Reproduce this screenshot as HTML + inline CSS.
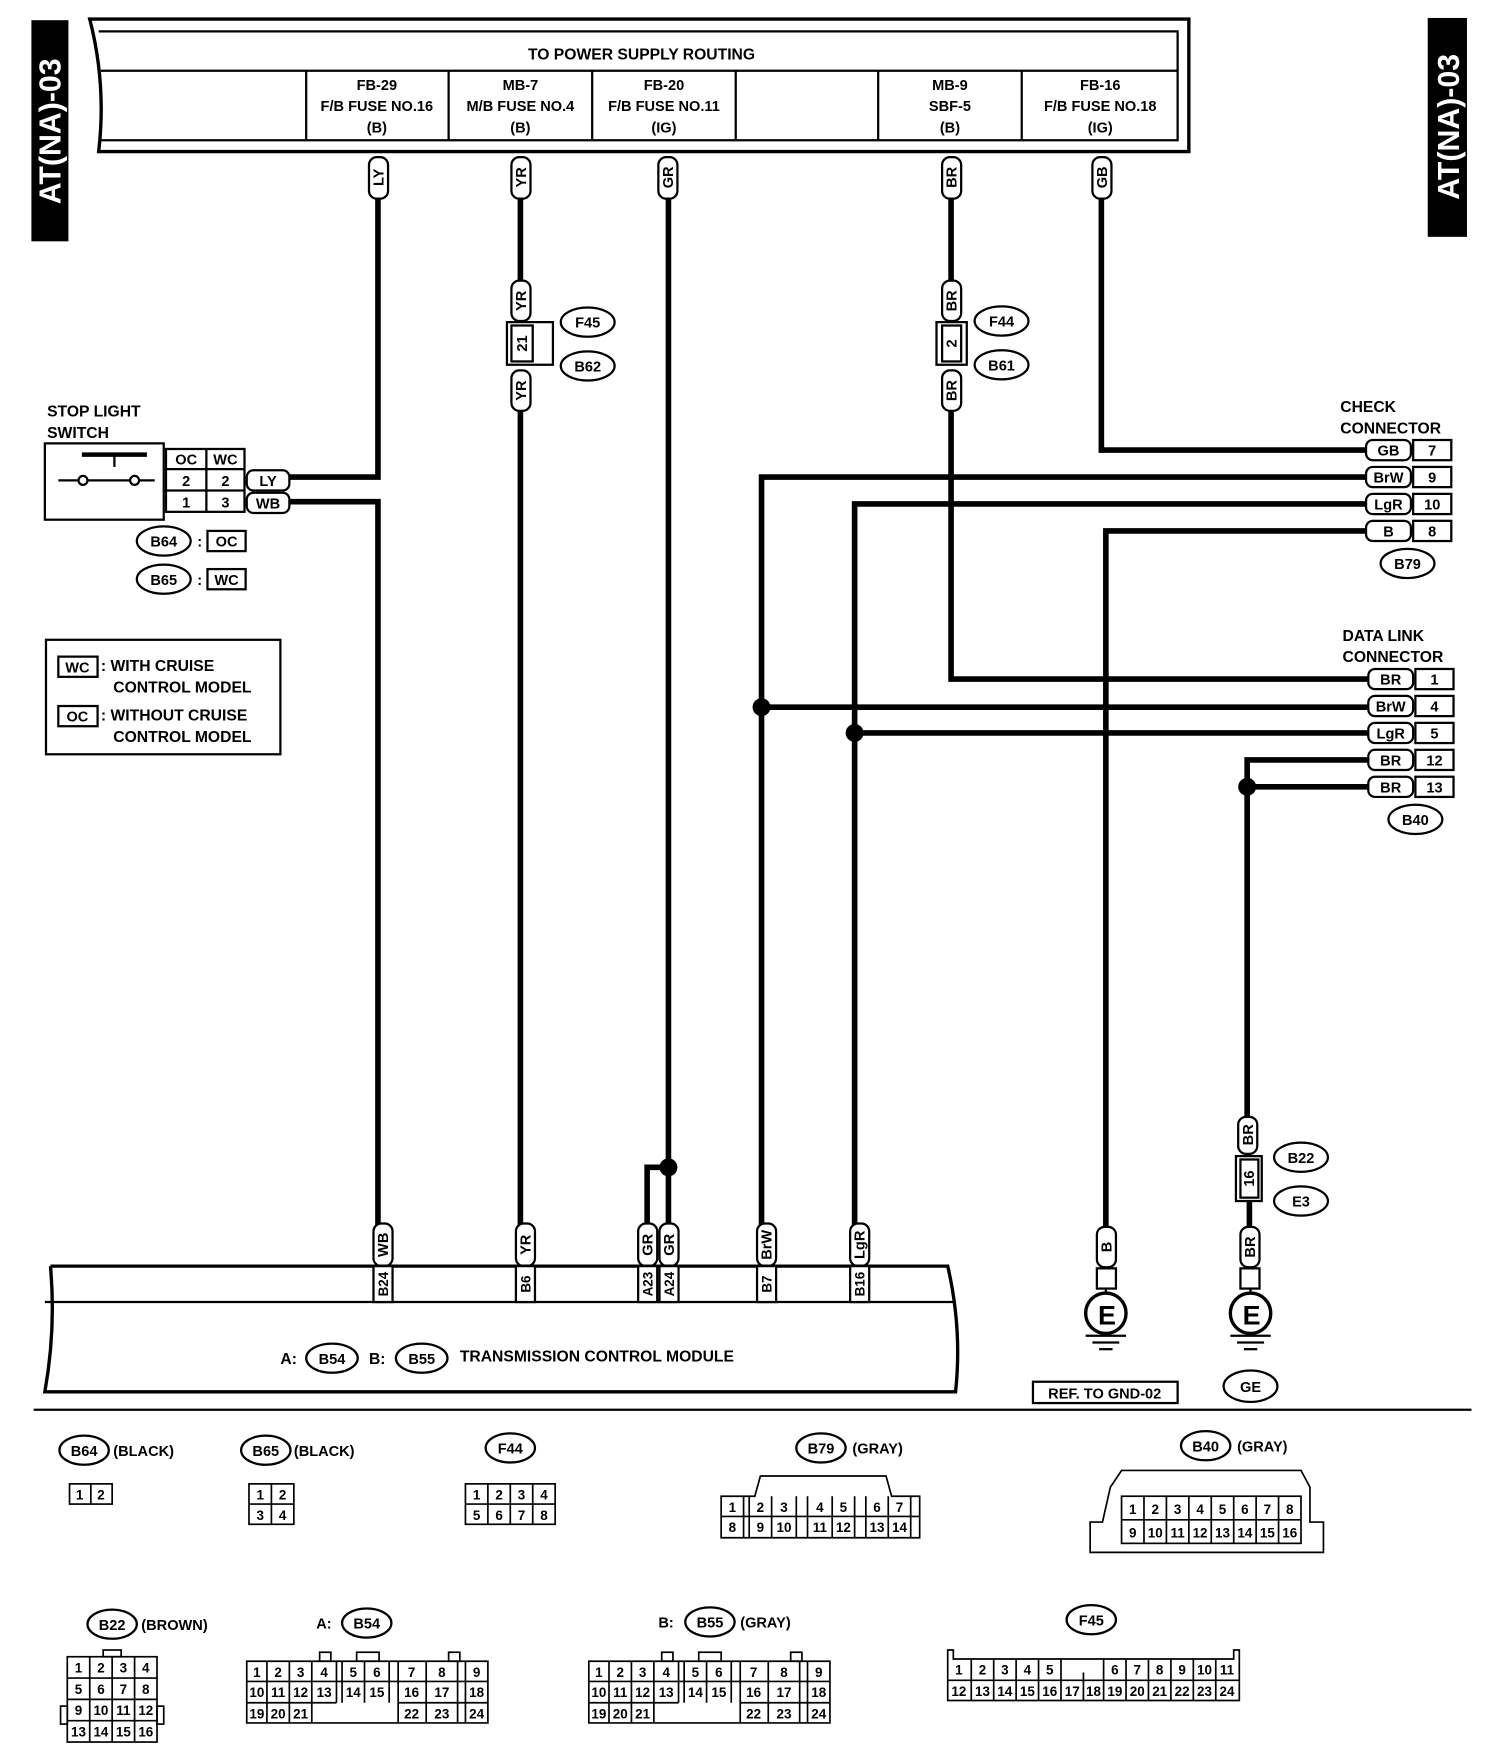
<!DOCTYPE html>
<html><head><meta charset="utf-8"><style>
html,body{margin:0;padding:0;background:#fff}
svg{display:block}
text{font-family:"Liberation Sans",sans-serif;font-weight:bold;fill:#000;font-stretch:condensed}
</style></head><body>
<svg width="1504" height="1760" viewBox="0 0 1341 1568" preserveAspectRatio="none" xmlns="http://www.w3.org/2000/svg">
<g font-size="14">
<rect x="28" y="18" width="33" height="197" fill="#000"/>
<text x="0" y="0" transform="translate(54,117) rotate(-90)" text-anchor="middle" font-size="27" style="fill:#fff" font-weight="normal">AT(NA)-03</text>
<rect x="1273" y="16" width="35" height="195" fill="#000"/>
<text x="0" y="0" transform="translate(1301,113) rotate(-90)" text-anchor="middle" font-size="27" style="fill:#fff" font-weight="normal">AT(NA)-03</text>

<g fill="none" stroke="#000">
<path d="M80,17 L1060,17 L1060,135 L88,135 Q95,75 80,17 Z" stroke-width="3"/>
<path d="M88,28 L1050,28 L1050,125 L90,125" stroke-width="2"/>
<line x1="90" y1="63" x2="1050" y2="63" stroke-width="2"/>
<g stroke-width="2">
<line x1="273" y1="63" x2="273" y2="125"/><line x1="400" y1="63" x2="400" y2="125"/>
<line x1="528" y1="63" x2="528" y2="125"/><line x1="656" y1="63" x2="656" y2="125"/>
<line x1="783" y1="63" x2="783" y2="125"/><line x1="911" y1="63" x2="911" y2="125"/>
</g></g>
<text x="572" y="53" text-anchor="middle">TO POWER SUPPLY ROUTING</text>
<g text-anchor="middle" font-size="13">
<text x="336" y="80">FB-29</text><text x="336" y="99">F/B FUSE NO.16</text><text x="336" y="118">(B)</text>
<text x="464" y="80">MB-7</text><text x="464" y="99">M/B FUSE NO.4</text><text x="464" y="118">(B)</text>
<text x="592" y="80">FB-20</text><text x="592" y="99">F/B FUSE NO.11</text><text x="592" y="118">(IG)</text>
<text x="847" y="80">MB-9</text><text x="847" y="99">SBF-5</text><text x="847" y="118">(B)</text>
<text x="981" y="80">FB-16</text><text x="981" y="99">F/B FUSE NO.18</text><text x="981" y="118">(IG)</text>
</g>

<g fill="none" stroke="#000" stroke-width="5">
<polyline points="337,175 337,425 258,425"/>
<polyline points="258,447 337,447 337,1092"/>
<line x1="464" y1="175" x2="464" y2="250"/>
<line x1="464" y1="365" x2="464" y2="1092"/>
<polyline points="596,175 596,1092"/>
<polyline points="596,1040 577,1040 577,1092"/>
<line x1="848" y1="175" x2="848" y2="250"/>
<polyline points="848,365 848,605 1220,605"/>
<polyline points="982,175 982,401 1218,401"/>
<polyline points="1218,425 679,425 679,1092"/>
<line x1="679" y1="630" x2="1220" y2="630"/>
<polyline points="1218,449 762,449 762,1092"/>
<line x1="762" y1="653" x2="1220" y2="653"/>
<polyline points="1218,473 986,473 986,1095"/>
<polyline points="1220,677 1112,677 1112,997"/>
<line x1="1112" y1="701" x2="1220" y2="701"/>
<line x1="1114" y1="1070" x2="1114" y2="1095"/>
</g>
<g fill="#000"><circle cx="679" cy="630" r="8"/><circle cx="762" cy="653" r="8"/><circle cx="596" cy="1040" r="8"/><circle cx="1112" cy="701" r="8"/></g>

<g fill="#fff" stroke="#000" stroke-width="2">
<rect x="329" y="140" width="17" height="37" rx="7"/>
<rect x="456" y="140" width="17" height="37" rx="7"/>
<rect x="587" y="140" width="17" height="37" rx="7"/>
<rect x="840" y="140" width="17" height="37" rx="7"/>
<rect x="974" y="140" width="17" height="37" rx="7"/>
<rect x="456" y="250" width="17" height="36" rx="7"/>
<rect x="456" y="330" width="17" height="36" rx="7"/>
<rect x="840" y="250" width="17" height="36" rx="7"/>
<rect x="840" y="330" width="17" height="36" rx="7"/>
<rect x="333" y="1090" width="17" height="38" rx="7"/>
<rect x="460" y="1090" width="17" height="38" rx="7"/>
<rect x="569" y="1090" width="17" height="38" rx="7"/>
<rect x="588" y="1090" width="17" height="38" rx="7"/>
<rect x="675" y="1090" width="17" height="38" rx="7"/>
<rect x="758" y="1090" width="17" height="38" rx="7"/>
<rect x="978" y="1093" width="17" height="36" rx="7"/>
<rect x="1106" y="1093" width="17" height="36" rx="7"/>
<rect x="1104" y="995" width="17" height="33" rx="7"/>
</g>
<g font-size="13" text-anchor="middle">
<text transform="translate(342,158) rotate(-90)">LY</text>
<text transform="translate(469,158) rotate(-90)">YR</text>
<text transform="translate(600,158) rotate(-90)">GR</text>
<text transform="translate(853,158) rotate(-90)">BR</text>
<text transform="translate(987,158) rotate(-90)">GB</text>
<text transform="translate(469,268) rotate(-90)">YR</text>
<text transform="translate(469,348) rotate(-90)">YR</text>
<text transform="translate(853,268) rotate(-90)">BR</text>
<text transform="translate(853,348) rotate(-90)">BR</text>
<text transform="translate(346,1109) rotate(-90)">WB</text>
<text transform="translate(473,1109) rotate(-90)">YR</text>
<text transform="translate(582,1109) rotate(-90)">GR</text>
<text transform="translate(601,1109) rotate(-90)">GR</text>
<text transform="translate(688,1109) rotate(-90)">BrW</text>
<text transform="translate(771,1109) rotate(-90)">LgR</text>
<text transform="translate(991,1111) rotate(-90)">B</text>
<text transform="translate(1119,1111) rotate(-90)">BR</text>
<text transform="translate(1117,1011) rotate(-90)">BR</text>
</g>

<g fill="#fff" stroke="#000" stroke-width="2">
<path d="M452,287 L493,287 L493,325 L452,325 Z"/>
<rect x="456" y="290" width="19" height="32"/>
<path d="M835,287 L862,287 L862,325 L835,325 Z"/>
<rect x="840" y="290" width="17" height="32"/>
<rect x="1102" y="1030" width="23" height="40"/>
<rect x="1106" y="1033" width="16" height="34"/>
<ellipse cx="524" cy="287" rx="24" ry="13"/><ellipse cx="524" cy="326" rx="24" ry="13"/>
<ellipse cx="893" cy="286" rx="24" ry="13"/><ellipse cx="893" cy="325" rx="24" ry="13"/>
<ellipse cx="1160" cy="1031" rx="24" ry="13"/><ellipse cx="1160" cy="1070" rx="24" ry="13"/>
</g>
<g font-size="13" text-anchor="middle">
<text transform="translate(470,306) rotate(-90)">21</text>
<text transform="translate(853,306) rotate(-90)">2</text>
<text transform="translate(1118,1050) rotate(-90)">16</text>
<text x="524" y="292">F45</text><text x="524" y="331">B62</text>
<text x="893" y="291">F44</text><text x="893" y="330">B61</text>
<text x="1160" y="1036">B22</text><text x="1160" y="1075">E3</text>
</g>

<text x="1195" y="367">CHECK</text><text x="1195" y="386">CONNECTOR</text>
<g fill="#fff" stroke="#000" stroke-width="2">
<rect x="1218" y="392" width="40" height="18" rx="6"/><rect x="1260" y="392" width="34" height="18"/>
<rect x="1218" y="416" width="40" height="18" rx="6"/><rect x="1260" y="416" width="34" height="18"/>
<rect x="1218" y="440" width="40" height="18" rx="6"/><rect x="1260" y="440" width="34" height="18"/>
<rect x="1218" y="464" width="40" height="18" rx="6"/><rect x="1260" y="464" width="34" height="18"/>
<ellipse cx="1255" cy="502" rx="24" ry="13"/>
</g>
<g font-size="13" text-anchor="middle">
<text x="1238" y="406">GB</text><text x="1277" y="406">7</text>
<text x="1238" y="430">BrW</text><text x="1277" y="430">9</text>
<text x="1238" y="454">LgR</text><text x="1277" y="454">10</text>
<text x="1238" y="478">B</text><text x="1277" y="478">8</text>
<text x="1255" y="507">B79</text>
</g>

<text x="1197" y="571">DATA LINK</text><text x="1197" y="590">CONNECTOR</text>
<g fill="#fff" stroke="#000" stroke-width="2">
<rect x="1220" y="596" width="40" height="18" rx="6"/><rect x="1262" y="596" width="34" height="18"/>
<rect x="1220" y="620" width="40" height="18" rx="6"/><rect x="1262" y="620" width="34" height="18"/>
<rect x="1220" y="644" width="40" height="18" rx="6"/><rect x="1262" y="644" width="34" height="18"/>
<rect x="1220" y="668" width="40" height="18" rx="6"/><rect x="1262" y="668" width="34" height="18"/>
<rect x="1220" y="692" width="40" height="18" rx="6"/><rect x="1262" y="692" width="34" height="18"/>
<ellipse cx="1262" cy="730" rx="24" ry="13"/>
</g>
<g font-size="13" text-anchor="middle">
<text x="1240" y="610">BR</text><text x="1279" y="610">1</text>
<text x="1240" y="634">BrW</text><text x="1279" y="634">4</text>
<text x="1240" y="658">LgR</text><text x="1279" y="658">5</text>
<text x="1240" y="682">BR</text><text x="1279" y="682">12</text>
<text x="1240" y="706">BR</text><text x="1279" y="706">13</text>
<text x="1262" y="735">B40</text>
</g>

<text x="42" y="371">STOP LIGHT</text><text x="42" y="390">SWITCH</text>
<g fill="none" stroke="#000" stroke-width="2">
<rect x="40" y="395" width="106" height="68"/>
<line x1="73" y1="405" x2="131" y2="405" stroke-width="4"/>
<line x1="102" y1="405" x2="102" y2="416"/>
<line x1="52" y1="428" x2="138" y2="428"/>
<circle cx="74" cy="428" r="4" fill="#fff"/><circle cx="120" cy="428" r="4" fill="#fff"/>
<rect x="148" y="400" width="70" height="56"/>
<line x1="148" y1="418" x2="218" y2="418"/><line x1="148" y1="437" x2="218" y2="437"/>
<line x1="184" y1="400" x2="184" y2="456"/>
<rect x="220" y="419" width="38" height="18" rx="6" fill="#fff"/>
<rect x="220" y="439" width="38" height="18" rx="6" fill="#fff"/>
<ellipse cx="146" cy="482" rx="24" ry="13"/><rect x="185" y="473" width="34" height="18"/>
<ellipse cx="146" cy="516" rx="24" ry="13"/><rect x="185" y="507" width="34" height="18"/>
<rect x="41" y="570" width="209" height="102"/>
<rect x="52" y="585" width="35" height="18"/><rect x="52" y="629" width="35" height="18"/>
</g>
<g font-size="13" text-anchor="middle">
<text x="166" y="414">OC</text><text x="201" y="414">WC</text>
<text x="166" y="433">2</text><text x="201" y="433">2</text>
<text x="166" y="452">1</text><text x="201" y="452">3</text>
<text x="239" y="433">LY</text><text x="239" y="453">WB</text>
<text x="146" y="487">B64</text><text x="178" y="487">:</text><text x="202" y="487">OC</text>
<text x="146" y="521">B65</text><text x="178" y="521">:</text><text x="202" y="521">WC</text>
<text x="69" y="599">WC</text><text x="69" y="643">OC</text>
</g>
<text x="90" y="598">: WITH CRUISE</text><text x="101" y="617">CONTROL MODEL</text>
<text x="90" y="642">: WITHOUT CRUISE</text><text x="101" y="661">CONTROL MODEL</text>

<g fill="none" stroke="#000" stroke-width="3">
<path d="M45,1128 L845,1128 Q858,1184 852,1240 L40,1240 Q50,1184 45,1128"/>
<line x1="40" y1="1160" x2="852" y2="1160" stroke-width="2"/>
</g>
<g fill="#fff" stroke="#000" stroke-width="2">
<rect x="333" y="1128" width="17" height="32"/><rect x="460" y="1128" width="17" height="32"/>
<rect x="569" y="1128" width="17" height="32"/><rect x="588" y="1128" width="17" height="32"/>
<rect x="675" y="1128" width="17" height="32"/><rect x="758" y="1128" width="17" height="32"/>
<ellipse cx="296" cy="1210" rx="23" ry="13"/><ellipse cx="376" cy="1210" rx="23" ry="13"/>
</g>
<g font-size="12" text-anchor="middle">
<text transform="translate(346,1144) rotate(-90)">B24</text>
<text transform="translate(473,1144) rotate(-90)">B6</text>
<text transform="translate(582,1144) rotate(-90)">A23</text>
<text transform="translate(601,1144) rotate(-90)">A24</text>
<text transform="translate(688,1144) rotate(-90)">B7</text>
<text transform="translate(771,1144) rotate(-90)">B16</text>
<text x="296" y="1215" font-size="13">B54</text><text x="376" y="1215" font-size="13">B55</text>
</g>
<text x="250" y="1215">A:</text><text x="329" y="1215">B:</text>
<text x="410" y="1213">TRANSMISSION CONTROL MODULE</text>

<g fill="#fff" stroke="#000" stroke-width="2">
<rect x="978" y="1130" width="17" height="18"/><rect x="1106" y="1130" width="17" height="18"/>
<circle cx="986" cy="1170" r="18" stroke-width="3"/><circle cx="1115" cy="1170" r="18" stroke-width="3"/>
<line x1="986" y1="1148" x2="986" y2="1152"/><line x1="1115" y1="1148" x2="1115" y2="1152"/>
<line x1="968" y1="1190" x2="1004" y2="1190"/><line x1="974" y1="1196" x2="998" y2="1196"/><line x1="980" y1="1202" x2="992" y2="1202"/>
<line x1="1097" y1="1190" x2="1133" y2="1190"/><line x1="1103" y1="1196" x2="1127" y2="1196"/><line x1="1109" y1="1202" x2="1121" y2="1202"/>
<rect x="921" y="1231" width="129" height="19"/>
<ellipse cx="1115" cy="1235" rx="24" ry="14"/>
</g>
<g text-anchor="middle">
<text x="987" y="1180" font-size="24">E</text><text x="1116" y="1180" font-size="24">E</text>
<text x="985" y="1246" font-size="13">REF. TO GND-02</text><text x="1115" y="1240" font-size="13">GE</text>
</g>

<line x1="30" y1="1256" x2="1312" y2="1256" stroke="#000" stroke-width="2"/>

<g fill="#fff" stroke="#000" stroke-width="2">
<ellipse cx="75" cy="1292" rx="22" ry="13"/><ellipse cx="237" cy="1292" rx="22" ry="13"/>
<ellipse cx="455" cy="1290" rx="22" ry="13"/><ellipse cx="732" cy="1290" rx="22" ry="13"/>
<ellipse cx="1075" cy="1288" rx="22" ry="13"/><ellipse cx="100" cy="1447" rx="22" ry="13"/>
<ellipse cx="327" cy="1446" rx="22" ry="13"/><ellipse cx="633" cy="1445" rx="22" ry="13"/>
<ellipse cx="973" cy="1443" rx="22" ry="13"/>
</g>
<g font-size="13">
<text x="75" y="1297" text-anchor="middle">B64</text><text x="101" y="1297">(BLACK)</text>
<text x="237" y="1297" text-anchor="middle">B65</text><text x="262" y="1297">(BLACK)</text>
<text x="455" y="1295" text-anchor="middle">F44</text>
<text x="732" y="1295" text-anchor="middle">B79</text><text x="760" y="1295">(GRAY)</text>
<text x="1075" y="1293" text-anchor="middle">B40</text><text x="1103" y="1293">(GRAY)</text>
<text x="100" y="1452" text-anchor="middle">B22</text><text x="126" y="1452">(BROWN)</text>
<text x="282" y="1451">A:</text><text x="327" y="1451" text-anchor="middle">B54</text>
<text x="587" y="1450">B:</text><text x="633" y="1450" text-anchor="middle">B55</text><text x="660" y="1450">(GRAY)</text>
<text x="973" y="1448" text-anchor="middle">F45</text>
</g>

<g fill="none" stroke="#000" stroke-width="1.5">
<rect x="62" y="1322" width="38" height="18"/><line x1="81" y1="1322" x2="81" y2="1340"/>
<rect x="222" y="1322" width="40" height="36"/><line x1="242" y1="1322" x2="242" y2="1358"/><line x1="222" y1="1340" x2="262" y2="1340"/>
<rect x="415" y="1322" width="80" height="36"/><line x1="435" y1="1322" x2="435" y2="1358"/><line x1="455" y1="1322" x2="455" y2="1358"/><line x1="475" y1="1322" x2="475" y2="1358"/><line x1="415" y1="1340" x2="495" y2="1340"/>
<path d="M643,1333 L673,1333 L678,1315 L790,1315 L795,1333 L820,1333 L820,1370 L643,1370 Z"/>
<line x1="643" y1="1351" x2="820" y2="1351"/>
<line x1="663" y1="1333" x2="663" y2="1370"/><line x1="668" y1="1333" x2="668" y2="1370"/>
<line x1="688" y1="1333" x2="688" y2="1370"/><line x1="710" y1="1333" x2="710" y2="1370"/><line x1="720" y1="1333" x2="720" y2="1370"/>
<line x1="742" y1="1333" x2="742" y2="1370"/><line x1="762" y1="1333" x2="762" y2="1370"/><line x1="772" y1="1333" x2="772" y2="1370"/><line x1="792" y1="1333" x2="792" y2="1370"/><line x1="812" y1="1333" x2="812" y2="1370"/>
<path d="M990,1325 L1000,1310 L1160,1310 L1168,1325 L1168,1356 L1180,1356 L1180,1383 L972,1383 L972,1356 L983,1356 Z"/>
<rect x="1000" y="1333" width="160" height="42"/><line x1="1000" y1="1354" x2="1160" y2="1354"/>
<line x1="1020" y1="1333" x2="1020" y2="1375"/><line x1="1040" y1="1333" x2="1040" y2="1375"/><line x1="1060" y1="1333" x2="1060" y2="1375"/><line x1="1080" y1="1333" x2="1080" y2="1375"/><line x1="1100" y1="1333" x2="1100" y2="1375"/><line x1="1120" y1="1333" x2="1120" y2="1375"/><line x1="1140" y1="1333" x2="1140" y2="1375"/>
<rect x="60" y="1476" width="80" height="76"/><line x1="60" y1="1495" x2="140" y2="1495"/><line x1="60" y1="1514" x2="140" y2="1514"/><line x1="60" y1="1533" x2="140" y2="1533"/>
<line x1="80" y1="1476" x2="80" y2="1552"/><line x1="100" y1="1476" x2="100" y2="1552"/><line x1="120" y1="1476" x2="120" y2="1552"/>
<rect x="92" y="1470" width="16" height="6"/><rect x="54" y="1520" width="6" height="16"/><rect x="140" y="1520" width="6" height="16"/>
<path d="M220,1480 L435,1480 L435,1535 L220,1535 Z"/><line x1="220" y1="1498" x2="435" y2="1498"/><line x1="220" y1="1517" x2="300" y2="1517"/><line x1="355" y1="1517" x2="435" y2="1517"/>
<line x1="238" y1="1480" x2="238" y2="1535"/><line x1="258" y1="1480" x2="258" y2="1535"/><line x1="278" y1="1480" x2="278" y2="1535"/><line x1="300" y1="1480" x2="300" y2="1517"/>
<line x1="305" y1="1480" x2="305" y2="1517"/><line x1="325" y1="1480" x2="325" y2="1517"/><line x1="347" y1="1480" x2="347" y2="1517"/>
<line x1="355" y1="1480" x2="355" y2="1535"/><line x1="380" y1="1480" x2="380" y2="1535"/><line x1="408" y1="1480" x2="408" y2="1535"/><line x1="415" y1="1480" x2="415" y2="1535"/>
<rect x="285" y="1472" width="10" height="8"/><rect x="318" y="1472" width="20" height="8"/><rect x="400" y="1472" width="10" height="8"/>
<path d="M525,1480 L740,1480 L740,1535 L525,1535 Z"/><line x1="525" y1="1498" x2="740" y2="1498"/><line x1="525" y1="1517" x2="605" y2="1517"/><line x1="660" y1="1517" x2="740" y2="1517"/>
<line x1="543" y1="1480" x2="543" y2="1535"/><line x1="563" y1="1480" x2="563" y2="1535"/><line x1="583" y1="1480" x2="583" y2="1535"/><line x1="605" y1="1480" x2="605" y2="1517"/>
<line x1="610" y1="1480" x2="610" y2="1517"/><line x1="630" y1="1480" x2="630" y2="1517"/><line x1="652" y1="1480" x2="652" y2="1517"/>
<line x1="660" y1="1480" x2="660" y2="1535"/><line x1="685" y1="1480" x2="685" y2="1535"/><line x1="713" y1="1480" x2="713" y2="1535"/><line x1="720" y1="1480" x2="720" y2="1535"/>
<rect x="590" y="1472" width="10" height="8"/><rect x="623" y="1472" width="20" height="8"/><rect x="705" y="1472" width="10" height="8"/>
<path d="M845,1470 L850,1470 L850,1478 L1100,1478 L1100,1470 L1105,1470 L1105,1515 L845,1515 Z"/><line x1="845" y1="1497" x2="1105" y2="1497"/>
<line x1="866" y1="1478" x2="866" y2="1515"/><line x1="886" y1="1478" x2="886" y2="1515"/><line x1="906" y1="1478" x2="906" y2="1515"/><line x1="926" y1="1478" x2="926" y2="1515"/><line x1="946" y1="1478" x2="946" y2="1515"/>
<line x1="966" y1="1490" x2="966" y2="1515"/><line x1="984" y1="1478" x2="984" y2="1515"/><line x1="1004" y1="1478" x2="1004" y2="1515"/><line x1="1024" y1="1478" x2="1024" y2="1515"/><line x1="1044" y1="1478" x2="1044" y2="1515"/><line x1="1064" y1="1478" x2="1064" y2="1515"/><line x1="1084" y1="1478" x2="1084" y2="1515"/>
</g>
<g font-size="12" text-anchor="middle" font-weight="normal">
<text x="71" y="1336">1</text><text x="90" y="1336">2</text>
<text x="232" y="1336">1</text><text x="252" y="1336">2</text><text x="232" y="1354">3</text><text x="252" y="1354">4</text>
<text x="425" y="1336">1</text><text x="445" y="1336">2</text><text x="465" y="1336">3</text><text x="485" y="1336">4</text>
<text x="425" y="1354">5</text><text x="445" y="1354">6</text><text x="465" y="1354">7</text><text x="485" y="1354">8</text>
<text x="653" y="1347">1</text><text x="678" y="1347">2</text><text x="699" y="1347">3</text><text x="731" y="1347">4</text><text x="752" y="1347">5</text><text x="782" y="1347">6</text><text x="802" y="1347">7</text>
<text x="653" y="1365">8</text><text x="678" y="1365">9</text><text x="699" y="1365">10</text><text x="731" y="1365">11</text><text x="752" y="1365">12</text><text x="782" y="1365">13</text><text x="802" y="1365">14</text>
<text x="1010" y="1349">1</text><text x="1030" y="1349">2</text><text x="1050" y="1349">3</text><text x="1070" y="1349">4</text><text x="1090" y="1349">5</text><text x="1110" y="1349">6</text><text x="1130" y="1349">7</text><text x="1150" y="1349">8</text>
<text x="1010" y="1370">9</text><text x="1030" y="1370">10</text><text x="1050" y="1370">11</text><text x="1070" y="1370">12</text><text x="1090" y="1370">13</text><text x="1110" y="1370">14</text><text x="1130" y="1370">15</text><text x="1150" y="1370">16</text>
<text x="70" y="1490">1</text><text x="90" y="1490">2</text><text x="110" y="1490">3</text><text x="130" y="1490">4</text>
<text x="70" y="1509">5</text><text x="90" y="1509">6</text><text x="110" y="1509">7</text><text x="130" y="1509">8</text>
<text x="70" y="1528">9</text><text x="90" y="1528">10</text><text x="110" y="1528">11</text><text x="130" y="1528">12</text>
<text x="70" y="1547">13</text><text x="90" y="1547">14</text><text x="110" y="1547">15</text><text x="130" y="1547">16</text>
<text x="229" y="1494">1</text><text x="248" y="1494">2</text><text x="268" y="1494">3</text><text x="289" y="1494">4</text><text x="315" y="1494">5</text><text x="336" y="1494">6</text><text x="367" y="1494">7</text><text x="394" y="1494">8</text><text x="425" y="1494">9</text>
<text x="229" y="1512">10</text><text x="248" y="1512">11</text><text x="268" y="1512">12</text><text x="289" y="1512">13</text><text x="315" y="1512">14</text><text x="336" y="1512">15</text><text x="367" y="1512">16</text><text x="394" y="1512">17</text><text x="425" y="1512">18</text>
<text x="229" y="1531">19</text><text x="248" y="1531">20</text><text x="268" y="1531">21</text><text x="367" y="1531">22</text><text x="394" y="1531">23</text><text x="425" y="1531">24</text>
<text x="534" y="1494">1</text><text x="553" y="1494">2</text><text x="573" y="1494">3</text><text x="594" y="1494">4</text><text x="620" y="1494">5</text><text x="641" y="1494">6</text><text x="672" y="1494">7</text><text x="699" y="1494">8</text><text x="730" y="1494">9</text>
<text x="534" y="1512">10</text><text x="553" y="1512">11</text><text x="573" y="1512">12</text><text x="594" y="1512">13</text><text x="620" y="1512">14</text><text x="641" y="1512">15</text><text x="672" y="1512">16</text><text x="699" y="1512">17</text><text x="730" y="1512">18</text>
<text x="534" y="1531">19</text><text x="553" y="1531">20</text><text x="573" y="1531">21</text><text x="672" y="1531">22</text><text x="699" y="1531">23</text><text x="730" y="1531">24</text>
<text x="855" y="1492">1</text><text x="876" y="1492">2</text><text x="896" y="1492">3</text><text x="916" y="1492">4</text><text x="936" y="1492">5</text><text x="994" y="1492">6</text><text x="1014" y="1492">7</text><text x="1034" y="1492">8</text><text x="1054" y="1492">9</text><text x="1074" y="1492">10</text><text x="1094" y="1492">11</text>
<text x="855" y="1511">12</text><text x="876" y="1511">13</text><text x="896" y="1511">14</text><text x="916" y="1511">15</text><text x="936" y="1511">16</text><text x="956" y="1511">17</text><text x="975" y="1511">18</text><text x="994" y="1511">19</text><text x="1014" y="1511">20</text><text x="1034" y="1511">21</text><text x="1054" y="1511">22</text><text x="1074" y="1511">23</text><text x="1094" y="1511">24</text>
</g>
</g>
</svg>
</body></html>
